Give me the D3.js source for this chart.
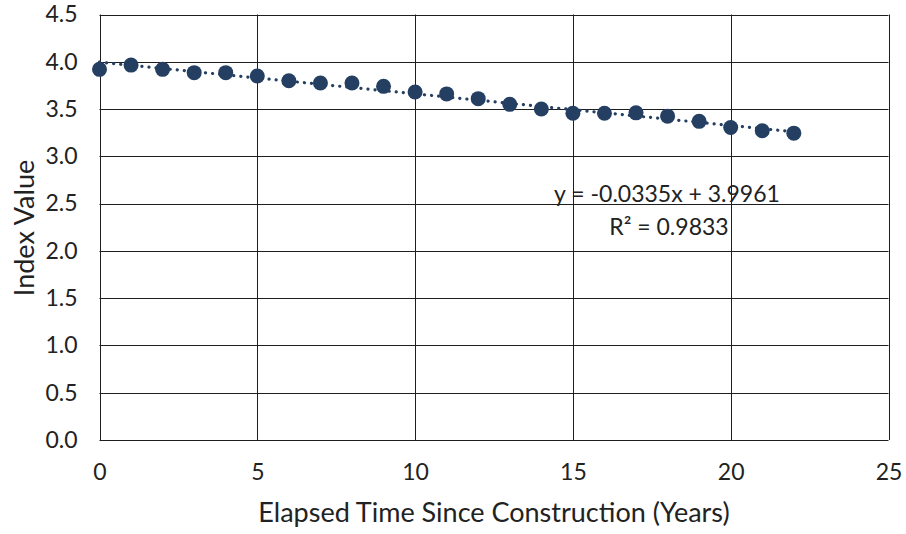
<!DOCTYPE html>
<html>
<head>
<meta charset="utf-8">
<script src="https://cdn.jsdelivr.net/npm/d3@7"></script>
<style>
  html, body { margin: 0; padding: 0; background: #fff; }
  svg { display: block; }
  text { font-family: Lato, "Open Sans", sans-serif; fill: #222; }
</style>
</head>
<body>
<svg id="chart" width="906" height="534"></svg>
<script>
// Index value by years since construction
const years = [0, 1, 2, 3, 4, 5, 6, 7, 8, 9, 10, 11, 12, 13, 14, 15, 16, 17, 18, 19, 20, 21, 22];
const indexValues = [3.92, 3.965, 3.92, 3.885, 3.885, 3.85, 3.80, 3.775, 3.775, 3.74, 3.68, 3.66,
                     3.61, 3.55, 3.50, 3.455, 3.455, 3.46, 3.425, 3.37, 3.305, 3.27, 3.245];

// Linear trendline coefficients, as printed on the chart
const slope = -0.0335;
const intercept = 3.9961;
const rSquared = 0.9833;

const xTicks = [0, 5, 10, 15, 20, 25];
const yTicks = [0, 0.5, 1.0, 1.5, 2.0, 2.5, 3.0, 3.5, 4.0, 4.5];

const svg = d3.select("#chart");
const W = 906, H = 534;
const margin = { left: 99.5, right: W - 888.5, top: 14.5, bottom: H - 440 };

const x = d3.scaleLinear().domain([0, 25]).range([margin.left, W - margin.right]);
const y = d3.scaleLinear().domain([0, 4.5]).range([H - margin.bottom, margin.top]);

const gridColor = "#1e1e1e";
const markColor = "#243f62";
const tickFont = "23px";
const titleFont = "27px";

// Gridlines
const grid = svg.append("g");
grid.selectAll("line.h").data(yTicks).join("line")
  .attr("x1", x(0)).attr("x2", x(25))
  .attr("y1", d => Math.round(y(d)) + 0.5).attr("y2", d => Math.round(y(d)) + 0.5)
  .attr("stroke", gridColor).attr("stroke-width", 1);
grid.selectAll("line.v").data(xTicks).join("line")
  .attr("y1", y(0)).attr("y2", y(4.5))
  .attr("x1", d => Math.round(x(d)) + 0.5).attr("x2", d => Math.round(x(d)) + 0.5)
  .attr("stroke", gridColor).attr("stroke-width", 1);

// Axes (labels only; the frame comes from the grid)
const styleTicks = g => g.selectAll("text")
  .style("font-size", tickFont)
  .style("font-family", "Lato, 'Open Sans', sans-serif")
  .attr("fill", "#222");

const yAxis = d3.axisLeft(y).tickValues(yTicks).tickFormat(d3.format(".1f")).tickSize(0).tickPadding(22);
svg.append("g").attr("transform", `translate(${x(0)},0)`).call(yAxis)
  .call(g => g.select(".domain").remove())
  .call(styleTicks);

const xAxis = d3.axisBottom(x).tickValues(xTicks).tickFormat(d3.format("d")).tickSize(0).tickPadding(24);
svg.append("g").attr("transform", `translate(0,${y(0)})`).call(xAxis)
  .call(g => g.select(".domain").remove())
  .call(styleTicks);

// Trendline
const trend = [0, 22].map(t => [t, intercept + slope * t]);
svg.append("path")
  .datum(trend)
  .attr("d", d3.line().x(d => x(d[0])).y(d => y(d[1])))
  .attr("fill", "none")
  .attr("stroke", markColor)
  .attr("stroke-width", 3.2)
  .attr("stroke-linecap", "round")
  .attr("stroke-dasharray", "0.1 7");

// Points
svg.append("g").selectAll("circle")
  .data(years.map((t, i) => [t, indexValues[i]]))
  .join("circle")
  .attr("cx", d => x(d[0]))
  .attr("cy", d => y(d[1]))
  .attr("r", 7.5)
  .attr("fill", markColor);

// Trendline equation
const fmt4 = d3.format(".4f");
const signed = v => (v < 0 ? "-" : "") + fmt4(Math.abs(v));
svg.append("text")
  .attr("x", 667).attr("y", 202)
  .attr("text-anchor", "middle")
  .style("font-size", tickFont)
  .text(`y = ${signed(slope)}x + ${fmt4(intercept)}`);
svg.append("text")
  .attr("x", 669).attr("y", 235)
  .attr("text-anchor", "middle")
  .style("font-size", tickFont)
  .text(`R² = ${fmt4(rSquared)}`);

// Axis titles
svg.append("text")
  .attr("x", 494).attr("y", 522)
  .attr("text-anchor", "middle")
  .style("font-size", titleFont)
  .text("Elapsed Time Since Construction (Years)");
svg.append("text")
  .attr("transform", `translate(34,228) rotate(-90)`)
  .attr("text-anchor", "middle")
  .style("font-size", titleFont)
  .text("Index Value");
</script>
</body>
</html>
